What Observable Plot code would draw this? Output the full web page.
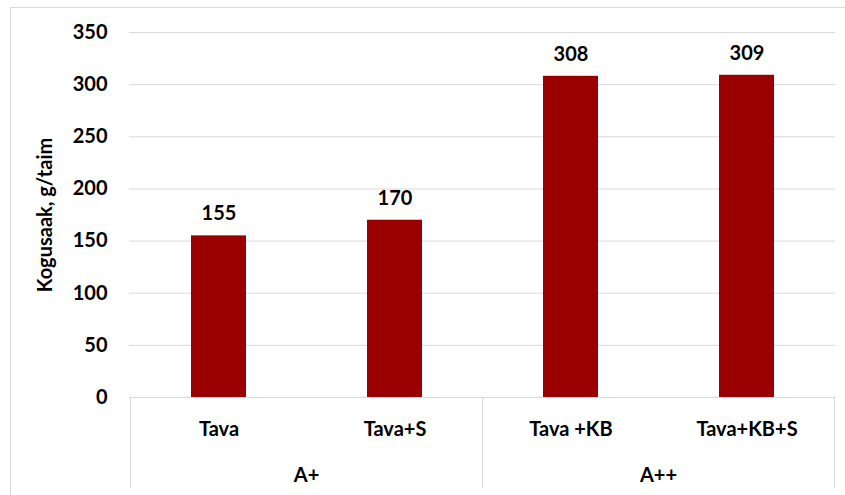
<!DOCTYPE html>
<html><head><meta charset="utf-8">
<script src="https://cdn.jsdelivr.net/npm/d3@7"></script>
<script src="https://cdn.jsdelivr.net/npm/@observablehq/plot@0.6"></script>
<style>
body{margin:0;background:#fff;}
#wrap{position:relative;width:845px;height:495px;overflow:hidden;background:#fff;}
#border{position:absolute;left:10px;top:7px;width:900px;height:600px;border:1px solid #d9d9d9;}
#wrap svg{position:absolute;left:0;top:0;}
</style></head><body><div id="wrap"><div id="border"></div></div>
<script>
const categories = ["Tava", "Tava+S", "Tava +KB", "Tava+KB+S"];
const groupOf = ["A+", "A+", "A++", "A++"];
const values = [155, 170, 308, 309];
const groupNames = ["A+", "A++"];
const yTicks = [0, 50, 100, 150, 200, 250, 300, 350];
const yTitle = "Kogusaak, g/taim";

const data = categories.map((c, i) => ({cat: c, group: groupOf[i], value: values[i]}));
const font = "Lato, 'Open Sans', sans-serif";

const chart = Plot.plot({
  width: 845, height: 495,
  marginLeft: 129, marginRight: 10, marginTop: 32, marginBottom: 98,
  style: {fontFamily: font, fontSize: "20px", fontWeight: "bold", color: "#000", background: "transparent"},
  x: {domain: categories, paddingInner: 0.69, paddingOuter: 0.345, label: null},
  y: {domain: [0, 350], label: null},
  marks: [
    Plot.ruleY(yTicks, {stroke: "#d9d9d9", strokeWidth: 1}),
    Plot.barY(data, {x: "cat", y: "value", fill: "#9b0000"}),
    Plot.text(data, {x: "cat", y: "value", text: d => String(d.value), dy: -22, fontSize: 20, fontWeight: "bold", fill: "#000"}),
    Plot.axisY({ticks: yTicks, tickSize: 0, tickPadding: 22, fontSize: 20, fontWeight: "bold",
      label: yTitle, labelAnchor: "center", labelArrow: "none", labelOffset: 92}),
    Plot.axisX({tickSize: 0, tickPadding: 24, fontSize: 20, fontWeight: "bold", label: null})
  ]
});
document.getElementById("wrap").appendChild(chart);

// category-tier box: separators and group labels from the x scale
const x = chart.scale("x");
const y = chart.scale("y");
const step = x.step, bw = x.bandwidth;
const half = (step - bw) / 2;
const svg = d3.select(chart);
const y0 = y.apply(0), yBottom = 488;
const bounds = [];
groupNames.forEach(g => {
  const cats = categories.filter((c, i) => groupOf[i] === g);
  const start = x.apply(cats[0]) - half;
  const end = x.apply(cats[cats.length - 1]) + bw + half;
  bounds.push(start, end);
  svg.append("text").attr("x", (start + end) / 2).attr("y", 482)
    .attr("text-anchor", "middle").attr("font-size", 20).attr("font-weight", "bold")
    .attr("font-family", font).attr("fill", "#000").text(g);
});
[...new Set(bounds.map(b => Math.round(b * 10) / 10))].forEach(b => {
  svg.append("line").attr("x1", b).attr("x2", b).attr("y1", y0).attr("y2", yBottom)
    .attr("stroke", "#d9d9d9").attr("stroke-width", 1);
});
</script></body></html>
